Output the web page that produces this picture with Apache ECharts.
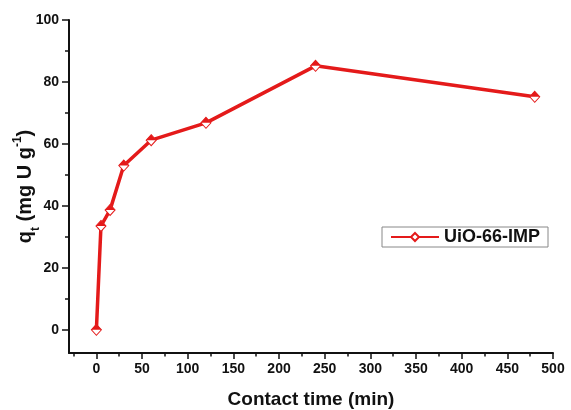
<!DOCTYPE html>
<html>
<head>
<meta charset="utf-8">
<script src="https://cdn.jsdelivr.net/npm/echarts@6/dist/echarts.min.js"></script>
<style>
  html, body { margin: 0; padding: 0; background: #fff; }
  #chart { width: 571px; height: 410px; }
</style>
</head>
<body>
<div id="chart"></div>
<script>
// Adsorption kinetics of UiO-66-IMP
const seriesName = 'UiO-66-IMP';
const contactTime = [0, 5, 15, 30, 60, 120, 240, 480];      // min
const qt = [0, 33.5, 38.7, 53.0, 61.2, 66.8, 85.2, 75.2];     // mg U g^-1
const xTicks = [0, 50, 100, 150, 200, 250, 300, 350, 400, 450, 500];
const xMinorTicks = [-25, 25, 75, 125, 175, 225, 275, 325, 375, 425, 475];
const yTicks = [0, 20, 40, 60, 80, 100];
const yMinorTicks = [10, 30, 50, 70, 90];

const points = contactTime.map((t, i) => [t, qt[i]]);
const red = '#e41a1a';
const font = '"Liberation Sans", Arial, sans-serif';

const chart = echarts.init(document.getElementById('chart'));

const baseX = { type: 'value', min: -30, max: 500, gridIndex: 0, position: 'bottom' };
const baseY = { type: 'value', min: -7.5, max: 100, gridIndex: 0, position: 'left' };

chart.setOption({
  animation: false,
  backgroundColor: '#fff',
  grid: { left: 69, right: 18, top: 20, bottom: 57, outerBoundsMode: 'none', containLabel: false },
  xAxis: [
    Object.assign({}, baseX, {
      name: 'Contact time (min)',
      nameLocation: 'middle',
      nameGap: 37,
      nameMoveOverlap: false,
      nameTextStyle: { fontFamily: font, fontWeight: 'bold', fontSize: 19, color: '#111' },
      axisLine: { show: true, onZero: false, lineStyle: { color: '#111', width: 2 } },
      axisTick: { show: true, inside: false, length: 6, customValues: xTicks, lineStyle: { color: '#111', width: 1.5 } },
      axisLabel: { customValues: xTicks, fontFamily: font, fontWeight: 'bold', fontSize: 14, color: '#111', margin: 9 },
      splitLine: { show: false }
    }),
    Object.assign({}, baseX, {
      axisLine: { show: false, onZero: false },
      axisTick: { show: true, length: 3.5, customValues: xMinorTicks, lineStyle: { color: '#111', width: 1.5 } },
      axisLabel: { show: false },
      splitLine: { show: false }
    })
  ],
  yAxis: [
    Object.assign({}, baseY, {
      name: '{b|q}{s|t}{b| (mg U g}{p|-1}{b|)}',
      nameLocation: 'middle',
      nameGap: 31,
      nameMoveOverlap: false,
      nameRotate: 90,
      nameTextStyle: {
        rich: {
          b: { fontFamily: font, fontWeight: 'bold', fontSize: 20, color: '#111', lineHeight: 26 },
          s: { fontFamily: font, fontWeight: 'bold', fontSize: 12, color: '#111', verticalAlign: 'bottom', lineHeight: 26, padding: [0, 0, -4, 0] },
          p: { fontFamily: font, fontWeight: 'bold', fontSize: 12, color: '#111', verticalAlign: 'top', lineHeight: 26 }
        }
      },
      axisLine: { show: true, onZero: false, lineStyle: { color: '#111', width: 2 } },
      axisTick: { show: true, inside: false, length: 7, customValues: yTicks, lineStyle: { color: '#111', width: 1.5 } },
      axisLabel: { customValues: yTicks, fontFamily: font, fontWeight: 'bold', fontSize: 14, color: '#111', margin: 10 },
      splitLine: { show: false }
    }),
    Object.assign({}, baseY, {
      axisLine: { show: false, onZero: false },
      axisTick: { show: true, length: 4, customValues: yMinorTicks, lineStyle: { color: '#111', width: 1.5 } },
      axisLabel: { show: false },
      splitLine: { show: false }
    })
  ],
  legend: {
    data: [seriesName],
    left: 382,
    top: 227,
    orient: 'horizontal',
    itemWidth: 48,
    itemHeight: 10,
    itemGap: 6,
    padding: [1, 8, 1, 8],
    borderColor: '#888',
    borderWidth: 1,
    textStyle: { fontFamily: font, fontWeight: 'bold', fontSize: 18, color: '#111' }
  },
  series: [
    {
      name: seriesName,
      type: 'line',
      xAxisIndex: 0,
      yAxisIndex: 0,
      data: points,
      symbol: 'diamond',
      symbolSize: [10, 11],
      showAllSymbol: true,
      lineStyle: { color: red, width: 3.5 },
      itemStyle: { color: '#fff', borderColor: red, borderWidth: 1 },
      z: 3
    },
    {
      // filled upper half of each diamond marker
      name: 'upper',
      type: 'scatter',
      xAxisIndex: 0,
      yAxisIndex: 0,
      data: points,
      symbol: 'path://M0,1L1,0L2,1Z',
      symbolSize: [10, 5.5],
      symbolOffset: [0, -2.75],
      itemStyle: { color: red, opacity: 1 },
      silent: true,
      z: 4
    }
  ]
});
</script>
</body>
</html>
